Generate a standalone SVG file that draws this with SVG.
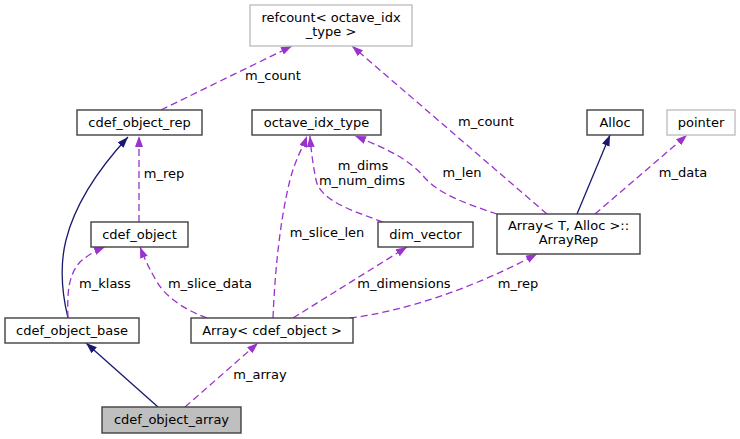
<svg xmlns="http://www.w3.org/2000/svg" width="740" height="439" viewBox="0 0 740 439">
<style>
text{font-family:"DejaVu Sans","Liberation Sans",sans-serif;font-size:13px;fill:#000}
.n{fill:#fff;stroke:#404040;stroke-width:1.4}
.g{fill:#fff;stroke:#bfbfbf;stroke-width:1.4}
.s{fill:#bfbfbf;stroke:#404040;stroke-width:1.4}
.c{text-anchor:middle}
.inh{fill:none;stroke:#191970;stroke-width:1.3}
.use{fill:none;stroke:#9a32cd;stroke-width:1.3;stroke-dasharray:7,4}
</style>
<defs>
<marker id="an" viewBox="0 0 11 8" refX="11" refY="4" markerWidth="11" markerHeight="8" markerUnits="userSpaceOnUse" orient="auto">
<path d="M0,0 L11,4 L0,8 z" fill="#191970" stroke="none"/>
</marker>
<marker id="ap" viewBox="0 0 11 8" refX="11" refY="4" markerWidth="11" markerHeight="8" markerUnits="userSpaceOnUse" orient="auto">
<path d="M0,0 L11,4 L0,8 z" fill="#9a32cd" stroke="none"/>
</marker>
</defs>
<g id="edges">
<path class="inh" marker-end="url(#an)" d="M68,318 C60,285 61,260 66,240 C76,200 104,163 128,137"/>
<path class="use" marker-end="url(#ap)" d="M139,222 L139,136"/>
<path class="use" marker-end="url(#ap)" d="M161,110 L292,46"/>
<path class="use" marker-end="url(#ap)" d="M547,214 L352,46"/>
<path class="use" marker-end="url(#ap)" d="M497,214 C470,205 440,195 425,178 C410,160 390,150 355,136"/>
<path class="inh" marker-end="url(#an)" d="M577,214 L610,135"/>
<path class="use" marker-end="url(#ap)" d="M595,214 L687,135"/>
<path class="use" marker-end="url(#ap)" d="M383,222 C350,210 320,200 316,180 C313,165 311,150 310,136"/>
<path class="use" marker-end="url(#ap)" d="M273,318 C275,270 280,220 290,180 C295,160 303,147 307,136"/>
<path class="use" marker-end="url(#ap)" d="M207,318 C180,308 165,295 157,282 C150,270 145,260 140,247"/>
<path class="use" marker-end="url(#ap)" d="M293,318 L407,247"/>
<path class="use" marker-end="url(#ap)" d="M350,318 C400,312 470,290 537,254"/>
<path class="use" marker-end="url(#ap)" d="M68,318 C67,295 68,275 80,262 C88,255 95,251 105,247"/>
<path class="inh" marker-end="url(#an)" d="M158,407 L86,343"/>
<path class="use" marker-end="url(#ap)" d="M185,407 L258,343"/>
<text class="c" x="273" y="80">m_count</text>
<text class="c" x="486" y="126">m_count</text>
<text class="c" x="164" y="178">m_rep</text>
<text class="c" x="363" y="170">m_dims</text>
<text class="c" x="362" y="185">m_num_dims</text>
<text class="c" x="462" y="177">m_len</text>
<text class="c" x="327" y="237">m_slice_len</text>
<text class="c" x="683" y="177">m_data</text>
<text class="c" x="105" y="288">m_klass</text>
<text class="c" x="210" y="288">m_slice_data</text>
<text class="c" x="404" y="288">m_dimensions</text>
<text class="c" x="518" y="288">m_rep</text>
<text class="c" x="260" y="379">m_array</text>
</g>
<g id="refcount"><rect class="g" x="250" y="5" width="162" height="41"/><text class="c" x="331" y="22">refcount&lt; octave_idx</text><text class="c" x="331" y="36">_type &gt;</text></g>
<g id="cdef_object_rep"><rect class="n" x="77" y="110" width="125" height="25"/><text class="c" x="139.5" y="127">cdef_object_rep</text></g>
<g id="octave_idx_type"><rect class="n" x="252" y="110" width="129" height="25"/><text class="c" x="316.5" y="127">octave_idx_type</text></g>
<g id="Alloc"><rect class="n" x="587" y="110" width="56" height="25"/><text class="c" x="615" y="127">Alloc</text></g>
<g id="pointer"><rect class="g" x="667" y="110" width="68" height="25"/><text class="c" x="701" y="127">pointer</text></g>
<g id="cdef_object"><rect class="n" x="91" y="222" width="97" height="25"/><text class="c" x="139.5" y="239">cdef_object</text></g>
<g id="dim_vector"><rect class="n" x="378" y="222" width="95" height="25"/><text class="c" x="425.5" y="239">dim_vector</text></g>
<g id="ArrayRep"><rect class="n" x="497" y="214" width="143" height="40"/><text class="c" x="568.5" y="230">Array&lt; T, Alloc &gt;::</text><text class="c" x="568.5" y="244">ArrayRep</text></g>
<g id="cdef_object_base"><rect class="n" x="5" y="318" width="134" height="25"/><text class="c" x="72" y="335">cdef_object_base</text></g>
<g id="Array_cdef_object"><rect class="n" x="191" y="318" width="162" height="25"/><text class="c" x="272" y="335">Array&lt; cdef_object &gt;</text></g>
<g id="cdef_object_array"><rect class="s" x="102" y="407" width="139" height="26"/><text class="c" x="171.5" y="424">cdef_object_array</text></g>
</svg>
